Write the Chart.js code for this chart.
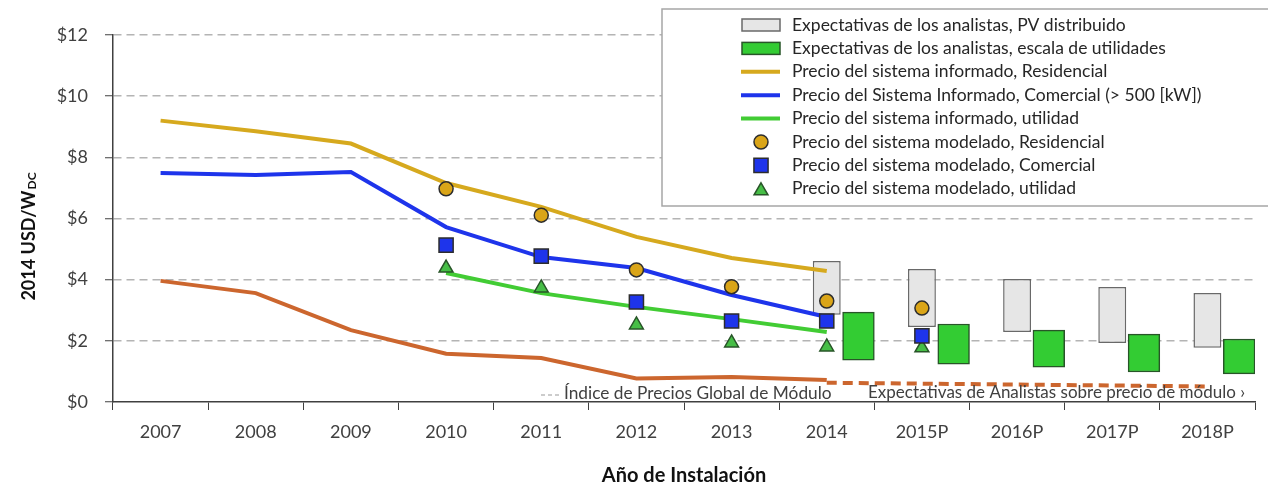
<!DOCTYPE html>
<html>
<head>
<meta charset="utf-8">
<script src="https://cdn.jsdelivr.net/npm/chart.js@4.4.1/dist/chart.umd.min.js"></script>
<style>
  html, body { margin: 0; padding: 0; background: #fff; }
  #wrap { width: 1268px; height: 489px; }
</style>
</head>
<body>
<div id="wrap"><canvas id="chart" width="1268" height="489"></canvas></div>
<script>
// ---- data (2014 USD/W_DC) ----
const years = ["2007", "2008", "2009", "2010", "2011", "2012", "2013", "2014", "2015P", "2016P", "2017P", "2018P"];

const resReported  = [9.20, 8.85, 8.45, 7.16, 6.38, 5.40, 4.71, 4.28, null, null, null, null];
const comReported  = [7.49, 7.42, 7.52, 5.72, 4.74, 4.38, 3.50, 2.78, null, null, null, null];
const utilReported = [null, null, null, 4.22, 3.56, 3.11, 2.71, 2.29, null, null, null, null];
const moduleIndex  = [3.96, 3.56, 2.35, 1.58, 1.44, 0.77, 0.82, 0.72, null, null, null, null];
const moduleExpect = [null, null, null, null, null, null, null, 0.63, 0.60, 0.57, 0.54, 0.51];

const resModeled  = [null, null, null, 6.97, 6.11, 4.32, 3.77, 3.30, 3.07, null, null, null];
const comModeled  = [null, null, null, 5.13, 4.77, 3.27, 2.65, 2.65, 2.16, null, null, null];
const utilModeled = [null, null, null, 4.38, 3.73, 2.52, 1.93, 1.80, 1.77, null, null, null];

const dpvLow   = [null, null, null, null, null, null, null, 2.85, 2.45, 2.29, 1.93, 1.77];
const dpvHigh  = [null, null, null, null, null, null, null, 4.61, 4.35, 4.02, 3.76, 3.56];
const utilLow  = [null, null, null, null, null, null, null, 1.37, 1.24, 1.14, 0.98, 0.92];
const utilHigh = [null, null, null, null, null, null, null, 2.94, 2.55, 2.35, 2.22, 2.06];

const yTicks = [0, 2, 4, 6, 8, 10, 12];

const legendLabels = [
  "Expectativas de los analistas, PV distribuido",
  "Expectativas de los analistas, escala de utilidades",
  "Precio del sistema informado, Residencial",
  "Precio del Sistema Informado, Comercial (> 500 [kW])",
  "Precio del sistema informado, utilidad",
  "Precio del sistema modelado, Residencial",
  "Precio del sistema modelado, Comercial",
  "Precio del sistema modelado, utilidad"
];
const noteIndex = "Índice de Precios Global de Módulo";
const noteExpect = "Expectativas de Analistas sobre precio de módulo ›";

// ---- styles ----
const FONT = "Lato, 'Open Sans', sans-serif";
const COLORS = {
  res: "rgb(214, 169, 30)",
  resDot: "rgb(218, 165, 24)",
  com: "rgb(30, 52, 235)",
  util: "rgb(66, 204, 52)",
  utilTri: "rgb(70, 190, 70)",
  module: "rgb(204, 102, 46)",
  dpvFill: "rgb(230, 230, 230)",
  dpvBorder: "rgb(105, 105, 105)",
  utilFill: "rgb(51, 204, 51)",
  utilBorder: "rgb(40, 85, 40)",
  markerBorder: "rgb(45, 45, 45)",
  text: "#404040",
  grid: "#b4b4b4",
  axis: "#404040"
};

const toRange = (lo, hi) => lo.map((v, i) => (v == null ? null : [v, hi[i]]));

function lineDs(label, data, color, extra = {}) {
  return Object.assign({
    type: "line",
    label,
    data,
    borderColor: color,
    borderWidth: 4,
    pointRadius: 0,
    tension: 0,
    spanGaps: false,
    order: 5
  }, extra);
}

function pointDs(label, data, style, fill, border, radius) {
  return {
    type: "line",
    label,
    data,
    showLine: false,
    pointStyle: style,
    pointRadius: radius,
    pointBackgroundColor: fill,
    pointBorderColor: border,
    pointBorderWidth: 1.5,
    order: 1
  };
}

// legend symbols: [kind, fill, border, radius]
const legendSymbols = [
  ["box", COLORS.dpvFill, COLORS.dpvBorder],
  ["box", COLORS.utilFill, COLORS.utilBorder],
  ["line", COLORS.res],
  ["line", COLORS.com],
  ["line", COLORS.util],
  ["circle", COLORS.resDot, COLORS.markerBorder, 7],
  ["rect", COLORS.com, COLORS.markerBorder, 10],
  ["triangle", COLORS.utilTri, COLORS.utilBorder, 8]
];

const overlayPlugin = {
  id: "overlay",
  afterDatasetsDraw(chart) {
    const { ctx } = chart;
    ctx.save();
    // module price notes under the curve
    ctx.strokeStyle = "#9a9a9a";
    ctx.lineWidth = 1.2;
    ctx.setLineDash([4, 3]);
    ctx.beginPath();
    ctx.moveTo(541, 395);
    ctx.lineTo(562, 395);
    ctx.stroke();
    ctx.setLineDash([]);
    ctx.font = "17.3px " + FONT;
    ctx.fillStyle = COLORS.text;
    ctx.textBaseline = "middle";
    ctx.textAlign = "left";
    ctx.fillText(noteIndex, 564, 393);
    ctx.font = "17px " + FONT;
    ctx.fillText(noteExpect, 868, 393);
    ctx.restore();
  },
  afterDraw(chart) {
    const { ctx } = chart;
    ctx.save();
    // legend box
    ctx.fillStyle = "#fff";
    ctx.fillRect(662, 9, 620, 197);
    ctx.strokeStyle = "#a6a6a6";
    ctx.lineWidth = 1.5;
    ctx.strokeRect(662, 9, 620, 197);

    const symX = 761, textX = 792, top = 25, step = 23.4;
    legendLabels.forEach((label, i) => {
      const y = top + i * step;
      const [kind, fill, border, r] = legendSymbols[i];
      if (kind === "box") {
        ctx.fillStyle = fill;
        ctx.strokeStyle = border;
        ctx.lineWidth = 1.5;
        ctx.fillRect(742, y - 6, 38, 12);
        ctx.strokeRect(742, y - 6, 38, 12);
      } else if (kind === "line") {
        ctx.strokeStyle = fill;
        ctx.lineWidth = 4;
        ctx.beginPath();
        ctx.moveTo(741, y);
        ctx.lineTo(780, y);
        ctx.stroke();
      } else {
        ctx.fillStyle = fill;
        ctx.strokeStyle = border;
        ctx.lineWidth = 1.5;
        Chart.helpers.drawPoint(ctx, { pointStyle: kind, radius: r, borderWidth: 1.5, rotation: 0 }, symX, y + (kind === "triangle" ? 2 : 0));
      }
      ctx.fillStyle = "#262626";
      ctx.font = "17.5px " + FONT;
      ctx.textBaseline = "middle";
      ctx.textAlign = "left";
      ctx.fillText(label, textX, y);
    });

    // y axis title with subscript
    ctx.translate(28, 237);
    ctx.rotate(-Math.PI / 2);
    ctx.fillStyle = "#111";
    ctx.textBaseline = "alphabetic";
    ctx.textAlign = "left";
    ctx.font = "bold 18px " + FONT;
    const main = "2014 USD/W";
    const mw = ctx.measureText(main).width;
    ctx.font = "bold 12px " + FONT;
    const sw = ctx.measureText("DC").width;
    const x0 = -(mw + sw) / 2;
    ctx.font = "bold 18px " + FONT;
    ctx.fillText(main, x0, 7);
    ctx.font = "bold 12px " + FONT;
    ctx.fillText("DC", x0 + mw + 1, 8);
    ctx.restore();
  }
};

Chart.defaults.font.family = FONT;
Chart.defaults.color = COLORS.text;

new Chart(document.getElementById("chart").getContext("2d"), {
  type: "bar",
  data: {
    labels: years,
    datasets: [
      pointDs("Precio del sistema modelado, Residencial", resModeled, "circle", COLORS.resDot, COLORS.markerBorder, 7),
      pointDs("Precio del sistema modelado, Comercial", comModeled, "rect", COLORS.com, COLORS.markerBorder, 10),
      pointDs("Precio del sistema modelado, utilidad", utilModeled, "triangle", COLORS.utilTri, COLORS.utilBorder, 8),
      lineDs("Precio del sistema informado, Residencial", resReported, COLORS.res),
      lineDs("Precio del Sistema Informado, Comercial", comReported, COLORS.com),
      lineDs("Precio del sistema informado, utilidad", utilReported, COLORS.util),
      lineDs("Índice de Precios Global de Módulo", moduleIndex, COLORS.module),
      lineDs("Expectativas sobre precio de módulo", moduleExpect, COLORS.module, { borderDash: [10, 6] }),
      { type: "bar", label: "", data: years.map(() => null), order: 10 },
      {
        type: "bar",
        label: "Expectativas de los analistas, PV distribuido",
        data: toRange(dpvLow, dpvHigh),
        backgroundColor: COLORS.dpvFill,
        borderColor: COLORS.dpvBorder,
        borderWidth: 1.5,
        borderSkipped: false,
        barPercentage: 0.88,
        categoryPercentage: 1.0,
        order: 10
      },
      {
        type: "bar",
        label: "Expectativas de los analistas, escala de utilidades",
        data: toRange(utilLow, utilHigh),
        backgroundColor: COLORS.utilFill,
        borderColor: COLORS.utilBorder,
        borderWidth: 1.5,
        borderSkipped: false,
        barPercentage: 1.0,
        categoryPercentage: 1.0,
        order: 10
      }
    ]
  },
  options: {
    responsive: false,
    animation: false,
    layout: { padding: { top: 35, right: 13, bottom: 0, left: 0 } },
    plugins: {
      legend: { display: false },
      tooltip: { enabled: false }
    },
    scales: {
      x: {
        type: "category",
        offset: true,
        grid: {
          offset: true,
          drawOnChartArea: false,
          drawTicks: true,
          tickLength: 8,
          color: COLORS.axis
        },
        border: { color: COLORS.axis, width: 1.5 },
        ticks: { font: { size: 18 }, color: COLORS.text, padding: 11, maxRotation: 0 },
        title: {
          display: true,
          text: "Año de Instalación",
          font: { size: 20, weight: "bold" },
          color: "#111",
          padding: { top: 0, bottom: 1 }
        },
        afterFit(s) {
          s.height = 87;
          s.paddingLeft = 0;
          s.paddingRight = 0;
        }
      },
      y: {
        min: 0,
        max: 12,
        afterBuildTicks(s) {
          s.ticks = yTicks.map(v => ({ value: v }));
        },
        ticks: {
          font: { size: 18 },
          color: COLORS.text,
          padding: 17,
          callback: v => "$" + v
        },
        grid: {
          color: ctx => (ctx.tick && ctx.tick.value === 0 ? "transparent" : COLORS.grid),
          lineWidth: 1.5,
          tickLength: 8,
          tickColor: COLORS.axis,
          tickWidth: 1
        },
        border: { color: COLORS.axis, width: 1.5, dash: [8, 5] },
        afterFit(s) {
          s.width = 113;
          s.paddingTop = 0;
          s.paddingBottom = 0;
        }
      }
    }
  },
  plugins: [overlayPlugin]
});
</script>
</body>
</html>
